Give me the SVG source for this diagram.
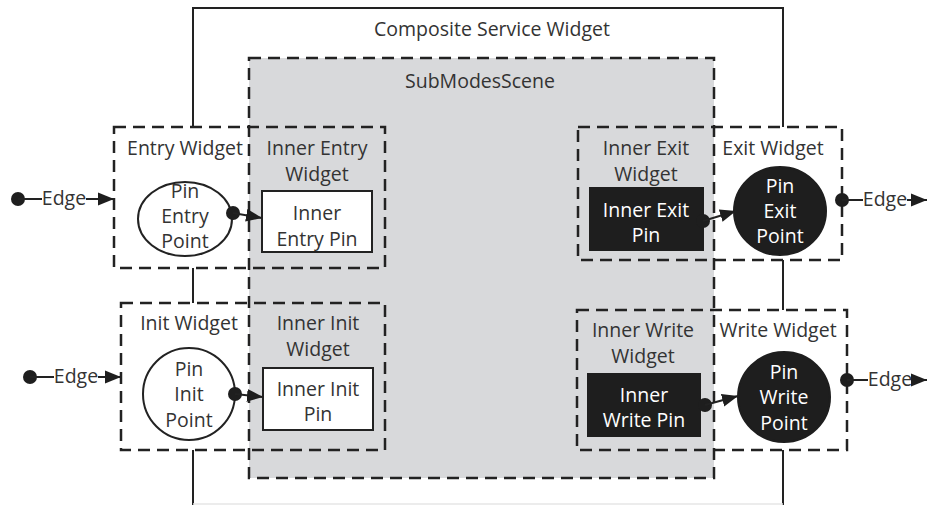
<svg xmlns="http://www.w3.org/2000/svg" width="927" height="505" viewBox="0 0 927 505">
  <defs>
    <style>
      .t { font-family: "Open Sans", "Liberation Sans", sans-serif; font-size: 19.5px; fill: #333; text-anchor: middle; dominant-baseline: central; }
      .tw { fill: #fff; }
      .dash { fill: none; stroke: #222; stroke-width: 2.5; stroke-dasharray: 12 7; }
      .solid { fill: none; stroke: #222; stroke-width: 2; }
      .pinw { fill: #fff; stroke: #222; stroke-width: 2; }
      .pinb { fill: #1e1e1e; stroke: #1e1e1e; stroke-width: 2; }
      .dot { fill: #1e1e1e; }
      .edge { fill: none; stroke: #222; stroke-width: 2; }
    </style>
    <marker id="arrowL" viewBox="0 0 10 10" refX="10" refY="5" markerWidth="16" markerHeight="16" markerUnits="userSpaceOnUse" orient="auto">
      <path d="M0,1 L10,5 L0,9 Z" fill="#1e1e1e"/>
    </marker>
  </defs>

  <rect width="927" height="505" fill="#fff"/>

  <!-- Composite Service Widget outline -->
  <g id="composite-service-widget">
    <path class="solid" d="M193,127 V8 H783 V127"/>
    <path class="solid" d="M193,450 V505 M783,450 V505"/>
    <line x1="193" y1="504" x2="783" y2="504" stroke="#e6e6e6" stroke-width="1.5"/>
    <text class="t" x="492" y="28">Composite Service Widget</text>
  </g>

  <!-- SubModesScene -->
  <g id="submodes-scene">
    <rect x="249" y="58" width="465" height="420" fill="#d8d9db"/>
    <rect class="dash" x="249" y="58" width="465" height="420"/>
    <text class="t" x="480" y="80">SubModesScene</text>
  </g>

  <!-- Entry Widget + Inner Entry Widget -->
  <g id="entry-widget">
    <rect class="dash" x="114" y="127" width="271" height="141"/>
    <text class="t" x="185" y="147">Entry Widget</text>
    <ellipse class="pinw" cx="185" cy="219" rx="47" ry="37"/>
    <text class="t" x="185" y="190">Pin</text>
    <text class="t" x="185" y="215">Entry</text>
    <text class="t" x="185" y="240">Point</text>
  </g>
  <g id="inner-entry-widget">
    <text class="t" x="317" y="147">Inner Entry</text>
    <text class="t" x="317" y="173">Widget</text>
    <rect class="pinw" x="262" y="191" width="110" height="61"/>
    <text class="t" x="317" y="212">Inner</text>
    <text class="t" x="317" y="238">Entry Pin</text>
  </g>

  <!-- Init Widget + Inner Init Widget -->
  <g id="init-widget">
    <rect class="dash" x="121" y="303" width="264" height="147"/>
    <text class="t" x="189" y="322">Init Widget</text>
    <circle class="pinw" cx="189" cy="394" r="46"/>
    <text class="t" x="189" y="368">Pin</text>
    <text class="t" x="189" y="393">Init</text>
    <text class="t" x="189" y="419">Point</text>
  </g>
  <g id="inner-init-widget">
    <text class="t" x="318" y="322">Inner Init</text>
    <text class="t" x="318" y="348">Widget</text>
    <rect class="pinw" x="263" y="368" width="110" height="62"/>
    <text class="t" x="318" y="388">Inner Init</text>
    <text class="t" x="318" y="413">Pin</text>
  </g>

  <!-- Exit Widget + Inner Exit Widget -->
  <g id="exit-widget">
    <rect class="dash" x="578" y="127" width="264" height="133"/>
    <text class="t" x="773" y="147">Exit Widget</text>
    <ellipse class="pinb" cx="780" cy="211" rx="46" ry="44"/>
    <text class="t tw" x="780" y="185">Pin</text>
    <text class="t tw" x="780" y="210">Exit</text>
    <text class="t tw" x="780" y="235">Point</text>
  </g>
  <g id="inner-exit-widget">
    <text class="t" x="646" y="147">Inner Exit</text>
    <text class="t" x="646" y="173">Widget</text>
    <rect class="pinb" x="590" y="188" width="113" height="62"/>
    <text class="t tw" x="646" y="209">Inner Exit</text>
    <text class="t tw" x="646" y="234">Pin</text>
  </g>

  <!-- Write Widget + Inner Write Widget -->
  <g id="write-widget">
    <rect class="dash" x="577" y="310" width="270" height="140"/>
    <text class="t" x="778" y="329">Write Widget</text>
    <ellipse class="pinb" cx="784" cy="397" rx="46" ry="45"/>
    <text class="t tw" x="784" y="371">Pin</text>
    <text class="t tw" x="784" y="396">Write</text>
    <text class="t tw" x="784" y="422">Point</text>
  </g>
  <g id="inner-write-widget">
    <text class="t" x="643" y="329">Inner Write</text>
    <text class="t" x="643" y="355">Widget</text>
    <rect class="pinb" x="588" y="374" width="112" height="62"/>
    <text class="t tw" x="644" y="394">Inner</text>
    <text class="t tw" x="644" y="419">Write Pin</text>
  </g>

  <!-- Connectors -->
  <g id="connectors">
    <!-- links between stacked widgets -->
    <line class="solid" x1="193" y1="268" x2="193" y2="303"/>
    <line class="solid" x1="783" y1="260" x2="783" y2="310"/>

    <!-- pin-to-pin links -->
    <circle class="dot" cx="233" cy="213" r="7"/>
    <line class="edge" x1="233" y1="213" x2="262" y2="218" marker-end="url(#arrowL)"/>
    <circle class="dot" cx="235" cy="394" r="7"/>
    <line class="edge" x1="235" y1="394" x2="263" y2="397" marker-end="url(#arrowL)"/>
    <circle class="dot" cx="703" cy="221" r="7"/>
    <line class="edge" x1="703" y1="221" x2="736" y2="211" marker-end="url(#arrowL)"/>
    <circle class="dot" cx="705" cy="405" r="7"/>
    <line class="edge" x1="705" y1="405" x2="738" y2="396" marker-end="url(#arrowL)"/>

    <!-- external edges, left -->
    <circle class="dot" cx="18" cy="199" r="7"/>
    <line class="edge" x1="18" y1="199" x2="42" y2="199"/>
    <text class="t" x="64" y="197">Edge</text>
    <line class="edge" x1="86" y1="199" x2="114" y2="199" marker-end="url(#arrowL)"/>

    <circle class="dot" cx="30" cy="377" r="7"/>
    <line class="edge" x1="30" y1="377" x2="54" y2="377"/>
    <text class="t" x="76" y="375">Edge</text>
    <line class="edge" x1="98" y1="377" x2="121" y2="377" marker-end="url(#arrowL)"/>

    <!-- external edges, right -->
    <circle class="dot" cx="842" cy="200" r="7"/>
    <line class="edge" x1="842" y1="200" x2="863" y2="200"/>
    <text class="t" x="885" y="198">Edge</text>
    <line class="edge" x1="907" y1="200" x2="927" y2="200" marker-end="url(#arrowL)"/>

    <circle class="dot" cx="847" cy="380" r="7"/>
    <line class="edge" x1="847" y1="380" x2="868" y2="380"/>
    <text class="t" x="890" y="378">Edge</text>
    <line class="edge" x1="912" y1="380" x2="927" y2="380" marker-end="url(#arrowL)"/>
  </g>
</svg>
